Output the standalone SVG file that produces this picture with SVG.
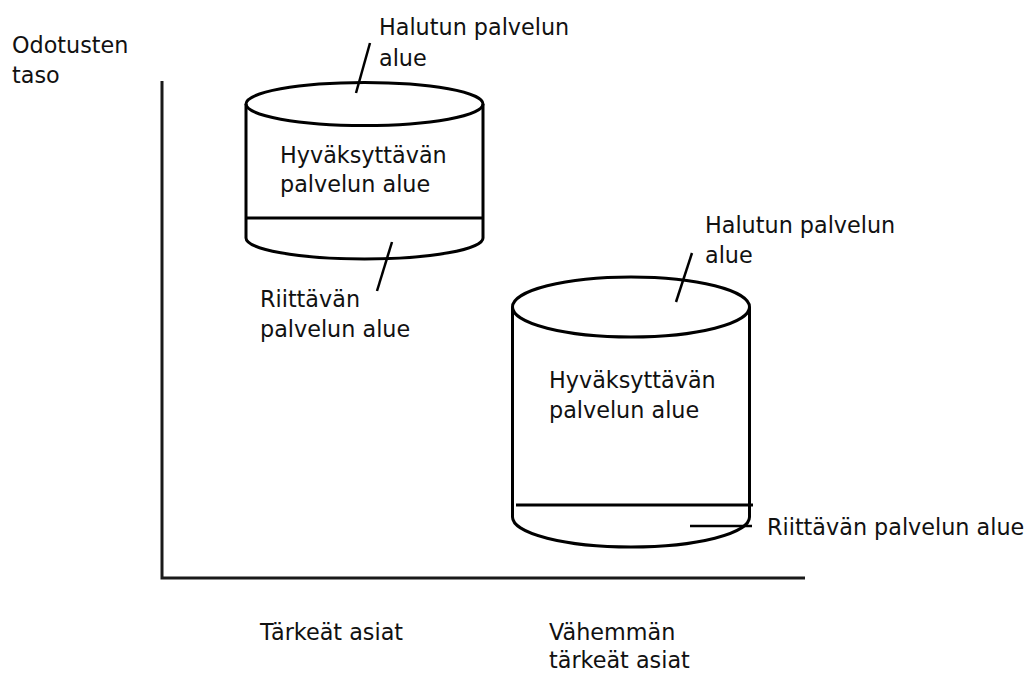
<svg xmlns="http://www.w3.org/2000/svg" width="1032" height="673" viewBox="0 0 1032 673">
<style>
text{font-family:"DejaVu Sans","Liberation Sans",sans-serif;font-size:22.3px;fill:#111}
.cyl{fill:none;stroke:#000;stroke-width:3}
.ln{stroke:#000;stroke-width:2.5;fill:none}
.ax{stroke:#1a1a1a;stroke-width:3;fill:none}
</style>
<rect width="1032" height="673" fill="#fff"/>
<g id="axes">
<path class="ax" d="M162,81 V578 H805"/>
<text x="12" y="53">Odotusten</text>
<text x="12" y="83">taso</text>
<text x="260" y="640">Tärkeät asiat</text>
<text x="549" y="640">Vähemmän</text>
<text x="549" y="668">tärkeät asiat</text>
</g>
<g id="cylinder1">
<ellipse class="cyl" cx="364.5" cy="104" rx="118.5" ry="21.5"/>
<path class="cyl" d="M246,104 V238 A118.5,21 0 0 0 483,238 V104"/>
<line class="cyl" x1="246" y1="218" x2="483" y2="218"/>
<text x="280" y="163">Hyväksyttävän</text>
<text x="280" y="192">palvelun alue</text>
</g>
<g id="cylinder2">
<ellipse class="cyl" cx="631" cy="307" rx="118.5" ry="30"/>
<path class="cyl" d="M512.5,307 V517 A118.5,30 0 0 0 749.5,517 V307"/>
<line class="cyl" x1="516" y1="505" x2="753" y2="505"/>
<text x="549" y="388">Hyväksyttävän</text>
<text x="549" y="418">palvelun alue</text>
</g>
<g id="labels">
<text x="379" y="35">Halutun palvelun</text>
<text x="379" y="66">alue</text>
<text x="260" y="307">Riittävän</text>
<text x="260" y="337">palvelun alue</text>
<text x="705" y="233">Halutun palvelun</text>
<text x="705" y="263">alue</text>
<text x="767" y="535">Riittävän palvelun alue</text>
</g>
<g id="connectors">
<line class="ln" x1="356" y1="93" x2="370" y2="43"/>
<line class="ln" x1="392" y1="242" x2="377" y2="291"/>
<line class="ln" x1="692" y1="253" x2="676" y2="302"/>
<line class="ln" x1="690" y1="526" x2="752" y2="526"/>
</g>
</svg>
